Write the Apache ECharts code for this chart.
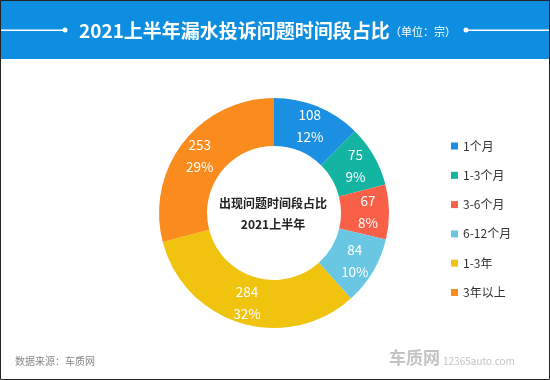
<!DOCTYPE html>
<html>
<head>
<meta charset="utf-8">
<script src="https://cdn.jsdelivr.net/npm/echarts@6/dist/echarts.min.js"></script>
<style>
html,body{margin:0;padding:0;background:#fff;}
#c{width:550px;height:380px;}
</style>
</head>
<body>
<div id="c"></div>
<script>
var categories = ['1个月', '1-3个月', '3-6个月', '6-12个月', '1-3年', '3年以上'];
var values = [108, 75, 67, 84, 284, 253];
var colors = ['#1b8fe2', '#14b4a2', '#fa5f48', '#6ac7e4', '#f0c30f', '#fa8b1d'];
var titleText = '2021上半年漏水投诉问题时间段占比';
var unitText = '（单位：宗）';
var centerLines = ['出现问题时间段占比', '2021上半年'];
var sourceText = '数据来源：车质网';

var FONT = '"Noto Sans CJK SC", "Noto Sans", sans-serif';
var chart = echarts.init(document.getElementById('c'), null, {renderer: 'canvas'});

var data = categories.map(function (c, i) {
  return {name: c, value: values[i], itemStyle: {color: colors[i]}};
});

chart.setOption({
  animation: false,
  color: colors,
  legend: {
    orient: 'vertical',
    left: 446,
    top: 135,
    itemWidth: 7,
    itemHeight: 7,
    itemGap: 17.3,
    icon: 'rect',
    textStyle: {fontSize: 12, color: '#333', fontFamily: FONT},
    data: categories
  },
  graphic: [
    {type: 'rect', shape: {x: 0, y: 0, width: 550, height: 59}, style: {fill: '#0e8ee0'}},
    {type: 'rect', shape: {x: 0, y: 29.5, width: 64, height: 1.5}, style: {fill: '#fff'}},
    {type: 'circle', shape: {cx: 65, cy: 30, r: 2.5}, style: {fill: '#fff'}},
    {type: 'rect', shape: {x: 466, y: 29.5, width: 84, height: 1.5}, style: {fill: '#fff'}},
    {type: 'circle', shape: {cx: 466, cy: 30, r: 2.5}, style: {fill: '#fff'}},
    {type: 'text', x: 79, y: 31, style: {text: titleText, fill: '#fff', font: 'bold 19px ' + FONT, verticalAlign: 'middle', textAlign: 'left'}},
    {type: 'text', x: 390, y: 32, style: {text: unitText, fill: '#fff', font: '11px ' + FONT, verticalAlign: 'middle', textAlign: 'left'}},
    {type: 'text', x: 273, y: 203, z: 10, style: {text: centerLines[0], fill: '#222', font: 'bold 12px ' + FONT, verticalAlign: 'middle', textAlign: 'center'}},
    {type: 'text', x: 273, y: 224, z: 10, style: {text: centerLines[1], fill: '#222', font: 'bold 12px ' + FONT, verticalAlign: 'middle', textAlign: 'center'}},
    {type: 'text', x: 15, y: 361, style: {text: sourceText, fill: '#888', font: '10px ' + FONT, verticalAlign: 'middle', textAlign: 'left'}},
    {type: 'text', x: 389, y: 358, style: {text: '车质网', fill: '#c4c4c4', font: 'bold 17px ' + FONT, verticalAlign: 'middle', textAlign: 'left'}},
    {type: 'text', x: 443, y: 361, style: {text: '12365auto.com', fill: '#c4c4c4', font: '10px ' + FONT, verticalAlign: 'middle', textAlign: 'left'}},
    {type: 'rect', z: 100, shape: {x: 0.5, y: 0.5, width: 549, height: 379}, style: {fill: null, stroke: '#222', lineWidth: 1}}
  ],
  series: [{
    type: 'pie',
    center: [274, 213],
    radius: [67, 115],
    startAngle: 90,
    clockwise: true,
    percentPrecision: 0,
    avoidLabelOverlap: false,
    label: {
      show: true,
      position: 'inside',
      formatter: '{c}\n{d}%',
      color: '#fff',
      fontSize: 13.5,
      lineHeight: 22,
      fontFamily: FONT
    },
    labelLine: {show: false},
    emphasis: {disabled: true},
    data: data
  }]
});
</script>
</body>
</html>
